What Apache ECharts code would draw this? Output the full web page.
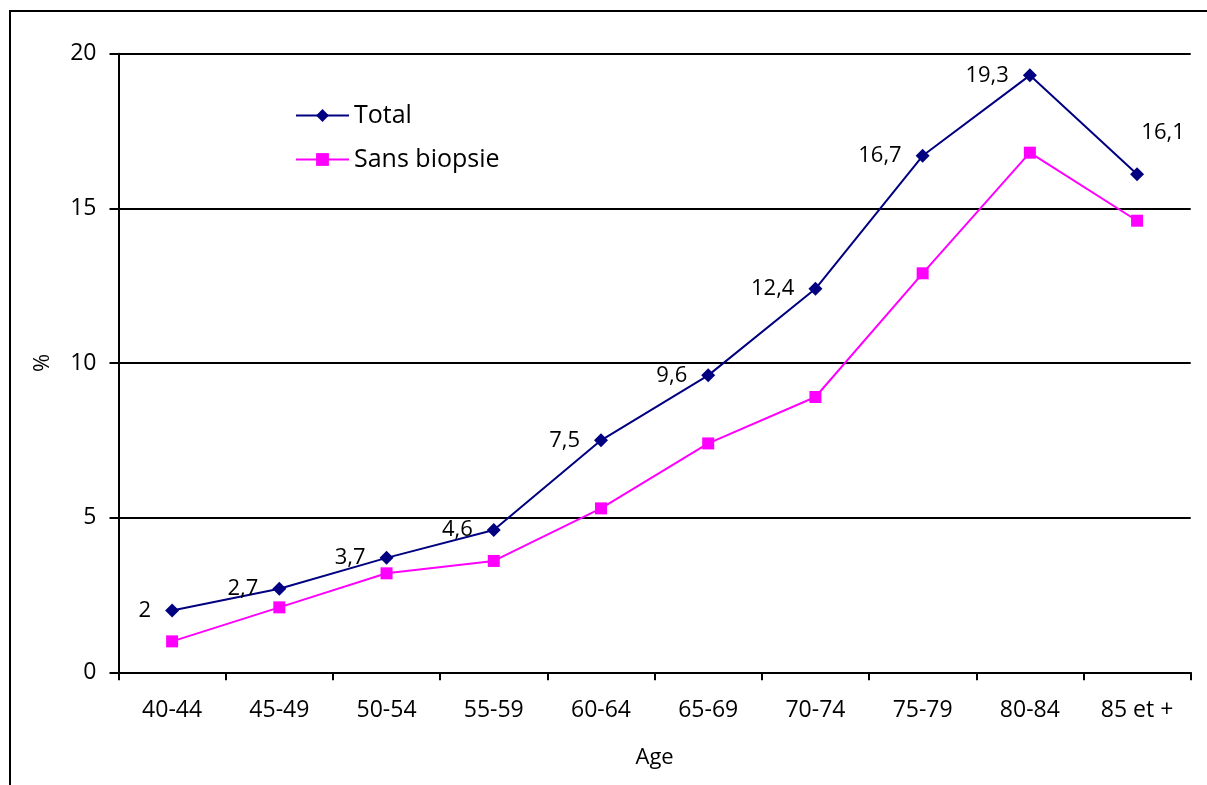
<!DOCTYPE html>
<html>
<head>
<meta charset="utf-8">
<script src="https://cdn.jsdelivr.net/npm/echarts@6/dist/echarts.min.js"></script>
<style>
  html, body { margin: 0; padding: 0; background: #ffffff; }
  #chart { width: 1207px; height: 785px; }
</style>
</head>
<body>
<div id="chart"></div>
<script>
// Age groups along the horizontal axis
const ageGroups = ['40-44', '45-49', '50-54', '55-59', '60-64', '65-69', '70-74', '75-79', '80-84', '85 et +'];
// Rates (%) per age group
const totalValues = [2, 2.7, 3.7, 4.6, 7.5, 9.6, 12.4, 16.7, 19.3, 16.1];
const sansBiopsieValues = [1.0, 2.1, 3.2, 3.6, 5.3, 7.4, 8.9, 12.9, 16.8, 14.6];
// Vertical axis ticks
const yTicks = [0, 5, 10, 15, 20];

const FONT = '"Open Sans", sans-serif';
const chart = echarts.init(document.getElementById('chart'));

// Decimal comma, as in French notation
const frNum = v => String(v).replace('.', ',');

const totalData = totalValues.map((v, i) => {
  const item = { value: v };
  if (i === totalValues.length - 1) {
    item.label = { position: 'top', offset: [26, -10] };
  }
  return item;
});

chart.setOption({
  animation: false,
  backgroundColor: '#ffffff',
  graphic: [{
    type: 'rect',
    shape: { x: 10, y: 11, width: 1400, height: 1000 },
    style: { fill: 'none', stroke: '#000000', lineWidth: 2 },
    silent: true
  }],
  legend: {
    orient: 'vertical',
    left: 290,
    top: 98,
    itemWidth: 53,
    itemHeight: 16,
    itemGap: 19,
    textStyle: { fontFamily: FONT, fontSize: 25, color: '#000000', padding: [0, 0, 0, 0] },
    data: ['Total', 'Sans biopsie']
  },
  grid: { left: 118.5, right: 16.3, top: 53.7, bottom: 112.7, containLabel: false },
  xAxis: {
    type: 'category',
    data: ageGroups,
    boundaryGap: true,
    name: 'Age',
    nameLocation: 'middle',
    nameGap: 74,
    nameTextStyle: { fontFamily: FONT, fontSize: 22, color: '#000000' },
    axisLine: { show: true, lineStyle: { color: '#000000', width: 2 } },
    axisTick: { show: true, length: 8, lineStyle: { color: '#000000', width: 2 } },
    axisLabel: { fontFamily: FONT, fontSize: 23, color: '#000000', margin: 27, interval: 0 },
    splitLine: { show: false }
  },
  yAxis: {
    type: 'value',
    min: yTicks[0],
    max: yTicks[yTicks.length - 1],
    interval: 5,
    name: '%',
    nameLocation: 'middle',
    nameGap: 65,
    nameRotate: 90,
    nameTextStyle: { fontFamily: FONT, fontSize: 22, color: '#000000' },
    axisLine: { show: true, lineStyle: { color: '#000000', width: 2 } },
    axisTick: { show: true, length: 9, lineStyle: { color: '#000000', width: 2 } },
    axisLabel: { fontFamily: FONT, fontSize: 23, color: '#000000', margin: 22 },
    splitLine: { show: true, lineStyle: { color: '#000000', width: 2 } }
  },
  series: [
    {
      name: 'Total',
      type: 'line',
      data: totalData,
      symbol: 'diamond',
      symbolSize: 14,
      color: '#000080',
      lineStyle: { color: '#000080', width: 2 },
      itemStyle: { color: '#000080' },
      label: {
        show: true,
        position: 'left',
        distance: 14,
        fontFamily: FONT,
        fontSize: 22,
        color: '#000000',
        formatter: p => frNum(p.value)
      },
      z: 3
    },
    {
      name: 'Sans biopsie',
      type: 'line',
      data: sansBiopsieValues,
      symbol: 'rect',
      symbolSize: 12,
      color: '#FF00FF',
      lineStyle: { color: '#FF00FF', width: 2 },
      itemStyle: { color: '#FF00FF' },
      label: { show: false },
      z: 2
    }
  ]
});
</script>
</body>
</html>
